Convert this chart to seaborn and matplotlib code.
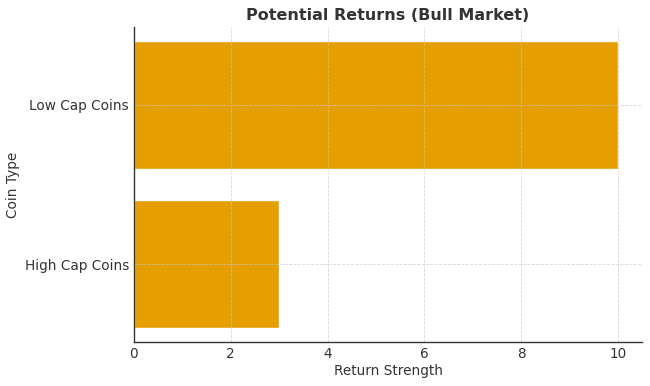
import matplotlib
matplotlib.use("Agg")
import matplotlib.pyplot as plt
import seaborn as sns
import pandas as pd

categories = ["Low Cap Coins", "High Cap Coins"]
returns = [10, 3]

df = pd.DataFrame({"Coin Type": categories, "Return Strength": returns})

sns.set_style("white")
plt.rcParams['font.family'] = ['DejaVu Sans']
plt.rcParams['text.color'] = '#333333'
plt.rcParams['axes.labelcolor'] = '#333333'
plt.rcParams['xtick.color'] = '#333333'
plt.rcParams['ytick.color'] = '#333333'

fig, ax = plt.subplots(figsize=(6.5, 3.86), dpi=100)
sns.barplot(data=df, x="Return Strength", y="Coin Type", orient="h",
            color="#E69F00", saturation=1, width=0.8, ax=ax)
ax.set_ylim(1.49, -0.49)
ax.set_xlim(0, 10.5)
ax.set_axisbelow(False)
ax.grid(True, linestyle="--", linewidth=0.6, color="#cbc2d6", alpha=0.7)
for s in ["top", "right"]:
    ax.spines[s].set_visible(False)
for s in ["left", "bottom"]:
    ax.spines[s].set_color("#333333")
    ax.spines[s].set_linewidth(1.0)
    ax.spines[s].set_zorder(5)
ax.tick_params(axis="both", length=2.5, width=0.8, pad=1, labelsize=9.8)
ax.set_title("Potential Returns (Bull Market)", fontsize=11.5, fontweight="bold", pad=5)
ax.set_xlabel("Return Strength", fontsize=9.8, labelpad=2)
ax.set_ylabel("Coin Type", fontsize=9.8, labelpad=3)
fig.subplots_adjust(left=0.206, right=0.988, top=0.93, bottom=0.114)
fig.savefig("out.png", dpi=100)
